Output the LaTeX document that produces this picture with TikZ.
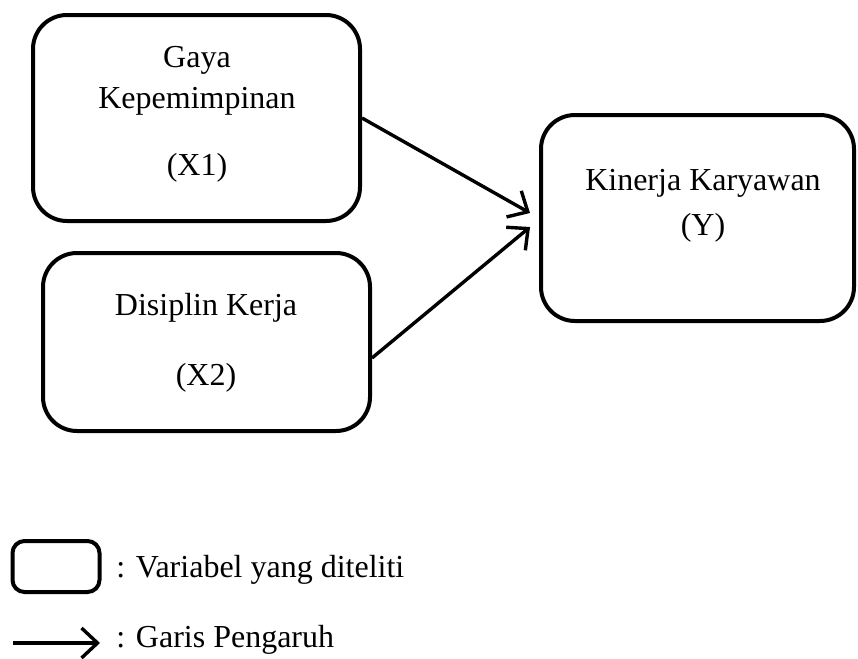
\documentclass[tikz,border=0pt]{standalone}
\usepackage{fontspec}
\setmainfont{Liberation Serif}
\usetikzlibrary{arrows.meta}
\begin{document}
\begin{tikzpicture}[x=0.5pt,y=-0.5pt,
  varbox/.style={draw=black,line width=2pt,rounded corners=17pt,inner sep=0pt},
  lbl/.style={inner sep=0pt,font=\fontsize{16pt}{19pt}\selectfont},
  infl/.style={line width=1.7pt,-{Straight Barb[length=8pt,width=15pt,line width=1.7pt]}}]
\useasboundingbox (0,0) rectangle (858,659);
% boxes
\node[varbox,minimum width=327*0.5pt,minimum height=206*0.5pt] (x1) at (196.5,118) {};
\node[varbox,minimum width=327*0.5pt,minimum height=178*0.5pt] (x2) at (206.5,342) {};
\node[varbox,minimum width=313*0.5pt,minimum height=206*0.5pt] (y) at (697.5,218) {};
% texts
\node[lbl] (t1a) at (197,60) {Gaya};
\node[lbl] (t1b) at (197,101) {Kepemimpinan};
\node[lbl] (t1c) at (197,168) {(X1)};
\node[lbl] (t2a) at (206,308) {Disiplin Kerja};
\node[lbl] (t2b) at (206,378) {(X2)};
\node[lbl] (t3a) at (703,183) {Kinerja Karyawan};
\node[lbl] (t3b) at (703,228) {(Y)};
% arrows
\coordinate (ya) at ([xshift=-4.5pt,yshift=2.5pt]y.west);
\coordinate (yb) at ([xshift=-4.5pt,yshift=-4.5pt]y.west);
\draw[infl] (x1.east) -- (ya);
\draw[infl] ([yshift=-8pt]x2.east) -- (yb);
% legend
\node[varbox,rounded corners=6pt,minimum width=87*0.5pt,minimum height=51*0.5pt] (lb) at (56,566.5) {};
\node[lbl,anchor=west] (lt1) at (116,570) {: Variabel yang diteliti};
\coordinate (la) at (13,643);
\coordinate (lz) at (100,643);
\draw[infl] (la) -- (lz);
\node[lbl,anchor=west] (lt2) at (116,640) {: Garis Pengaruh};
\end{tikzpicture}
\end{document}
